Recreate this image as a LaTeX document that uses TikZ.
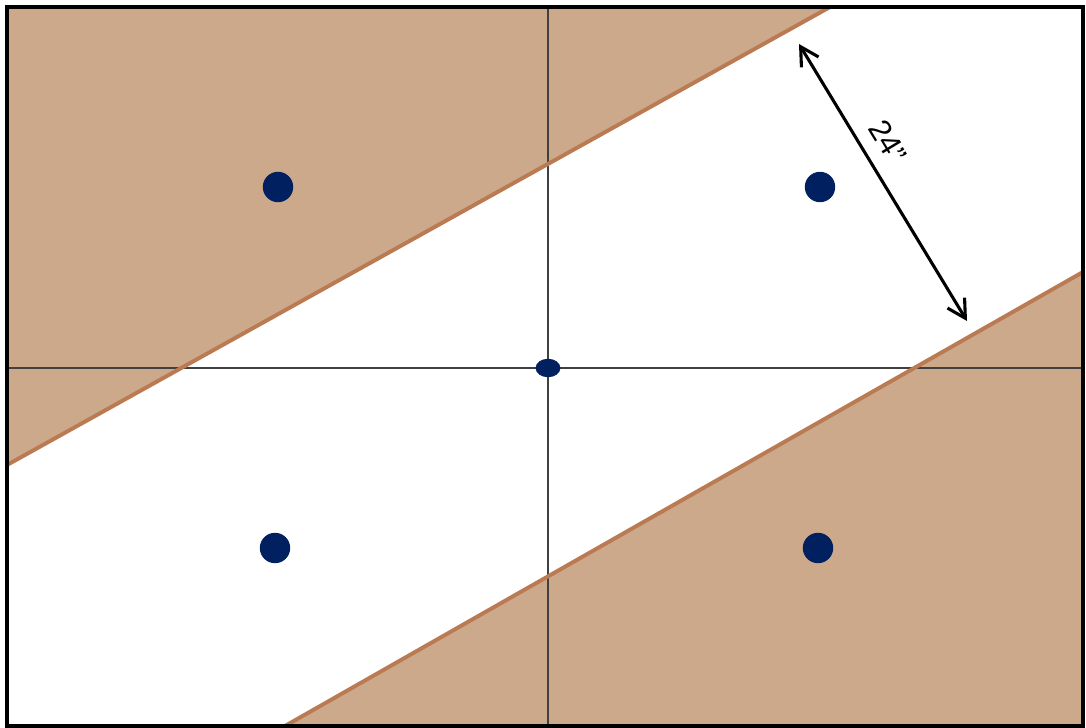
\documentclass[tikz,border=0pt]{standalone}
\usepackage{fontspec}
\setmainfont{Liberation Sans}
\usepackage{tikz}
\usetikzlibrary{arrows.meta, positioning, shapes.geometric}

\definecolor{sand}{RGB}{205,169,140}
\definecolor{sandedge}{RGB}{186,122,82}
\definecolor{navy}{RGB}{0,32,96}

\begin{document}
\begin{tikzpicture}[
  x=0.025cm, y=-0.025cm,
  pin/.style={circle, fill=navy, minimum size=7.6mm, inner sep=0pt},
  origin/.style={ellipse, fill=navy, minimum width=6.2mm,
                 minimum height=4.6mm, inner sep=0pt},
  zone/.style={fill=sand},
  edge/.style={draw=sandedge, line width=2.8pt},
  axis/.style={draw=black!75, line width=1pt},
  span/.style={{Straight Barb[length=4.5mm,width=5mm]}-{Straight Barb[length=4.5mm,width=5mm]},
               line width=2.2pt}
]
\useasboundingbox (0,0) rectangle (1086,728);

% shaded zones
\fill[zone] (7,7) -- (830,7) -- (7,465) -- cycle;
\fill[zone] (285,726) -- (1083,272) -- (1083,726) -- cycle;

% axes
\draw[axis] (548,7) -- (548,726);
\draw[axis] (7,368) -- (1083,368);

% zone borders
\draw[edge] (7,465) -- (830,7);
\draw[edge] (285,726) -- (1083,272);

% frame
\draw[line width=2.2pt] (7,7) rectangle (1083,726);

% points
\node[origin] (O) at (548,368) {};
\node[pin] (P1) at (278,187) {};
\node[pin] (P2) at (820,187) {};
\node[pin] (P3) at (275,548) {};
\node[pin] (P4) at (818,548) {};

% width marker
\coordinate (A) at (799,44);
\coordinate (B) at (967,321);
\draw[span] (A) -- (B) node[pos=0.4, above=6pt, sloped,
  font=\fontsize{22}{26}\selectfont] (W) {24"};
\end{tikzpicture}
\end{document}
